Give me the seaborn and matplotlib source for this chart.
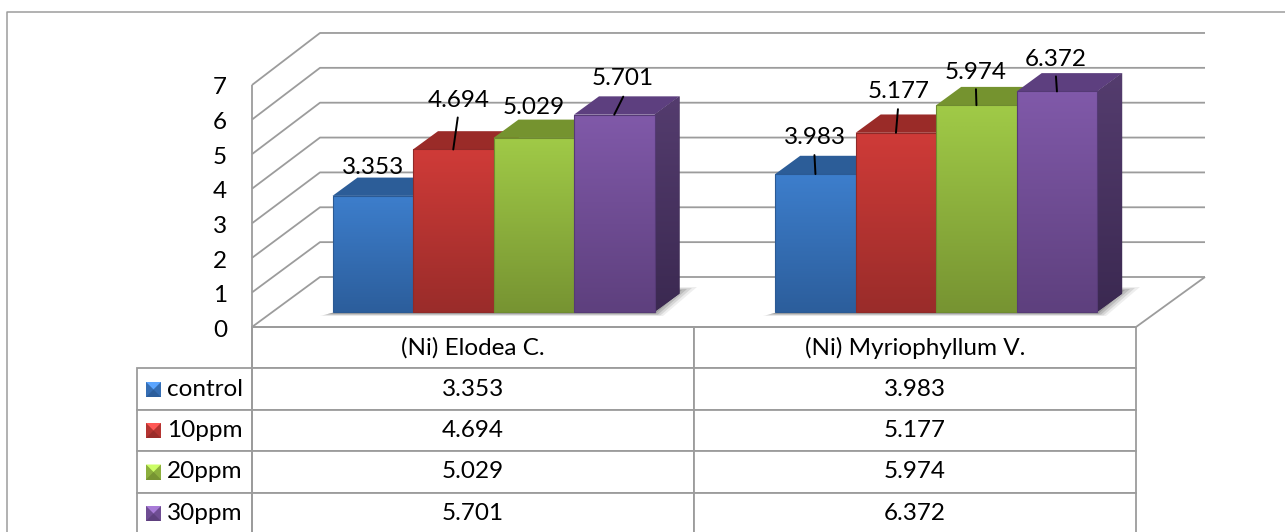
import numpy as np
import pandas as pd
import seaborn as sns
import matplotlib
matplotlib.use("Agg")
import matplotlib.pyplot as plt
from matplotlib.colors import to_rgb, LinearSegmentedColormap
from matplotlib.patches import Polygon
from matplotlib.table import Table

# ---------- data ----------
categories = ["(Ni) Elodea C.", "(Ni) Myriophyllum V."]
series_names = ["control", "10ppm", "20ppm", "30ppm"]
control = [3.353, 3.983]
ppm10 = [4.694, 5.177]
ppm20 = [5.029, 5.974]
ppm30 = [5.701, 6.372]
series_values = [control, ppm10, ppm20, ppm30]
y_ticks = [0, 1, 2, 3, 4, 5, 6, 7]

# ---------- style ----------
front_top = ["#3D7ECC", "#CF3B38", "#A0CA47", "#8059A9"]
front_bot = ["#2C5E9C", "#9A2C2A", "#779432", "#5E407E"]
edge_col = ["#2B5A94", "#8F2A28", "#6F8B30", "#553A75"]
top_face = ["#2C5D98", "#9A2B28", "#75932F", "#5D3F7F"]
side_top = ["#2A5A92", "#8E2826", "#6C8830", "#543C6E"]
side_bot = ["#1F4470", "#6C1E1C", "#52671F", "#3B2951"]
GRID = "#9C9C9C"
W, H = 1285, 532
DPI = 100
FS = 17.5
# text placement relative to each bar's top centre, in pixels: (dx, dy up)
label_off = [[(0, 28), (-1, 36.5)], [(5.5, 48.5), (3, 41)],
             [(0, 30.5), (-0.5, 32.5)], [(8, 36), (-1, 32)]]
leader_off = [[None, (-1, 19)], [(4.5, 32), (2, 23.6)],
              [None, (-0.5, 16)], [(9, 18), (-1, 15)]]
DEPTH_PX = (25, 18.3)

sns.set_theme(style="white")
plt.rcParams["font.family"] = ["Lato", "DejaVu Sans"]
fig = plt.figure(figsize=(W / DPI, H / DPI), dpi=DPI, facecolor="white")


def px_axes(x0, y_top, x1, y_bot, **kw):
    return fig.add_axes([x0 / W, 1 - y_bot / H, (x1 - x0) / W, (y_bot - y_top) / H], **kw)


# ---------- background: frame, walls, floor, table (pixel space) ----------
bg = px_axes(0, 0, W, H)
bg.set_xlim(0, W)
bg.set_ylim(H, 0)
bg.axis("off")
line_kw = dict(color=GRID, lw=1.3, solid_capstyle="butt")
bg.plot([6.5, 6.5, W], [H, 11.5, 11.5], color=GRID, lw=1.1)
for v in y_ticks:
    yf = 327 - v * 34.57
    yb = 277 - v * 34.86
    bg.plot([252, 320, 1205], [yf, yb, yb], **line_kw)
bg.plot([252, 252], [85, H], **line_kw)
bg.plot([252, 1136, 1205], [327, 327, 277], **line_kw)

# soft floor shadows
for gx0, gx1 in [(334, 655), (777, 1098)]:
    for k, a in enumerate([0.08, 0.12, 0.16, 0.2]):
        i = k * 2.5
        bg.add_patch(Polygon([(gx0 - 14 + i, 316 - k * .7), (gx1 + 8 - i, 316 - k * .7),
                              (gx1 + 42 - i * 2, 287 + k), (gx1 + 22 - i, 287 + k),
                              (gx0 + 10, 310)],
                             closed=True, fc="#303030", ec="none", alpha=a))

# data table
box = [137 / W, (H - 534) / H, (1136 - 137) / W, 207 / H]
tbl = Table(bg, bbox=box)
cw = [115 / 999, 442 / 999, 442 / 999]
rh = 0.2
for c, name in enumerate(categories):
    tbl.add_cell(0, c + 1, cw[c + 1], rh, text=name, loc="center", edgecolor=GRID)
for r, (name, vals) in enumerate(zip(series_names, series_values)):
    cell = tbl.add_cell(r + 1, 0, cw[0], rh, text=name, loc="left", edgecolor=GRID)
    cell.PAD = 0.26
    for c, v in enumerate(vals):
        tbl.add_cell(r + 1, c + 1, cw[c + 1], rh, text=f"{v:.3f}", loc="center", edgecolor=GRID)
tbl.auto_set_font_size(False)
tbl.set_fontsize(FS)
for cell in tbl.get_celld().values():
    cell.set_linewidth(1.3)
    cell.get_text().set_color("black")
bg.add_table(tbl)

# legend keys in the table
for r, key_y in enumerate([382, 423, 464.5, 506]):
    x0, x1, y0, y1 = 146, 161, key_y, key_y + 15
    cx, cy = (x0 + x1) / 2, (y0 + y1) / 2
    lt, dk = to_rgb(front_top[r]), to_rgb(front_bot[r])
    mid = tuple((a + b) / 2 for a, b in zip(lt, dk))
    bright = tuple(min(1, a * 1.15 + .08) for a in lt)
    bg.add_patch(Polygon([(x0, y0), (x1, y0), (x1, y1), (x0, y1)], fc=dk, ec="none"))
    bg.add_patch(Polygon([(x0, y0), (cx, cy), (x0, y1)], fc=mid, ec="none"))
    bg.add_patch(Polygon([(x1, y0), (cx, cy), (x1, y1)], fc=mid, ec="none"))
    bg.add_patch(Polygon([(x0, y0), (x1, y0), (cx, cy)], fc=bright, ec="none"))

# ---------- value axis on the front of the left wall ----------
wall = px_axes(252, 86, 260, 328.5)
wall.patch.set_alpha(0)
wall.set_ylim(0, 7)
wall.set_xticks([])
wall.set_yticks(y_ticks)
wall.set_yticklabels([str(v) for v in y_ticks], fontsize=FS, color="black")
wall.tick_params(axis="y", length=0, pad=18)
sns.despine(ax=wall, left=True, bottom=True)

# ---------- bars ----------
df = pd.DataFrame({
    "category": np.tile(categories, len(series_names)),
    "series": np.repeat(series_names, len(categories)),
    "value": np.concatenate(series_values),
})
CAT_PX = 442.7
UNIT_PX = 34.6
x_left = 493.5 - CAT_PX / 2
BASE_PX = 311.9
ax = px_axes(x_left, BASE_PX - 7 * UNIT_PX, x_left + 2 * CAT_PX, BASE_PX)
ax.patch.set_alpha(0)
sns.barplot(data=df, x="category", y="value", hue="series", hue_order=series_names,
            order=categories, palette=dict(zip(series_names, front_bot)), saturation=1,
            width=322 / CAT_PX, gap=0, errorbar=None, legend=False, linewidth=0, ax=ax)
xlim, ylim = (-0.5, 1.5), (0, 7)
ddx, ddy = DEPTH_PX[0] / CAT_PX, DEPTH_PX[1] / UNIT_PX


def shaded(xy, c_top, c_bot, z, edge=None):
    xy = np.asarray(xy)
    ax.add_patch(Polygon(xy, closed=True, fc=c_bot, ec="none", zorder=z, clip_on=False))
    if c_top != c_bot:
        cmap = LinearSegmentedColormap.from_list("g", [c_top, c_bot])
        im = ax.imshow(np.linspace(0, 1, 64)[:, None], cmap=cmap, aspect="auto",
                       extent=(xy[:, 0].min(), xy[:, 0].max(), xy[:, 1].min(), xy[:, 1].max()),
                       origin="upper", zorder=z + 0.1, interpolation="bilinear")
        im.set_clip_path(Polygon(xy, closed=True, transform=ax.transData))
    if edge is not None:
        ax.add_patch(Polygon(xy, closed=True, fc="none", ec=edge, lw=0.8, zorder=z + 0.2,
                             clip_on=False))


for s, cont in enumerate(ax.containers):
    for g, bar in enumerate(cont):
        x0, wd, h = bar.get_x(), bar.get_width(), bar.get_height()
        z = 3 + s * 2
        bar.set_zorder(z + 1)
        shaded([(x0 + wd, 0), (x0 + wd + ddx, ddy), (x0 + wd + ddx, h + ddy), (x0 + wd, h)],
               side_top[s], side_bot[s], z)
        shaded([(x0, h), (x0 + ddx, h + ddy), (x0 + wd + ddx, h + ddy), (x0 + wd, h)],
               top_face[s], top_face[s], z)
        shaded([(x0, 0), (x0 + wd, 0), (x0 + wd, h), (x0, h)], front_top[s], front_bot[s], z + 1,
               edge=edge_col[s])
        cx = x0 + wd / 2
        lo = label_off[s][g]
        ax.annotate(f"{h:.3f}", xy=(cx, h), xytext=lo, textcoords="offset pixels",
                    ha="center", va="center", fontsize=FS, color="black", zorder=30,
                    annotation_clip=False)
        ld = leader_off[s][g]
        if ld is not None:
            ax.annotate("", xy=(cx, h), xytext=ld, textcoords="offset pixels",
                        arrowprops=dict(arrowstyle="-", color="black", lw=1.4,
                                        shrinkA=0, shrinkB=0),
                        zorder=30, annotation_clip=False)

ax.set_xlim(*xlim)
ax.set_ylim(*ylim)
ax.set_xlabel("")
ax.set_ylabel("")
ax.set_xticks([])
ax.set_yticks([])
sns.despine(ax=ax, left=True, bottom=True)

fig.savefig("out.png", dpi=DPI)
